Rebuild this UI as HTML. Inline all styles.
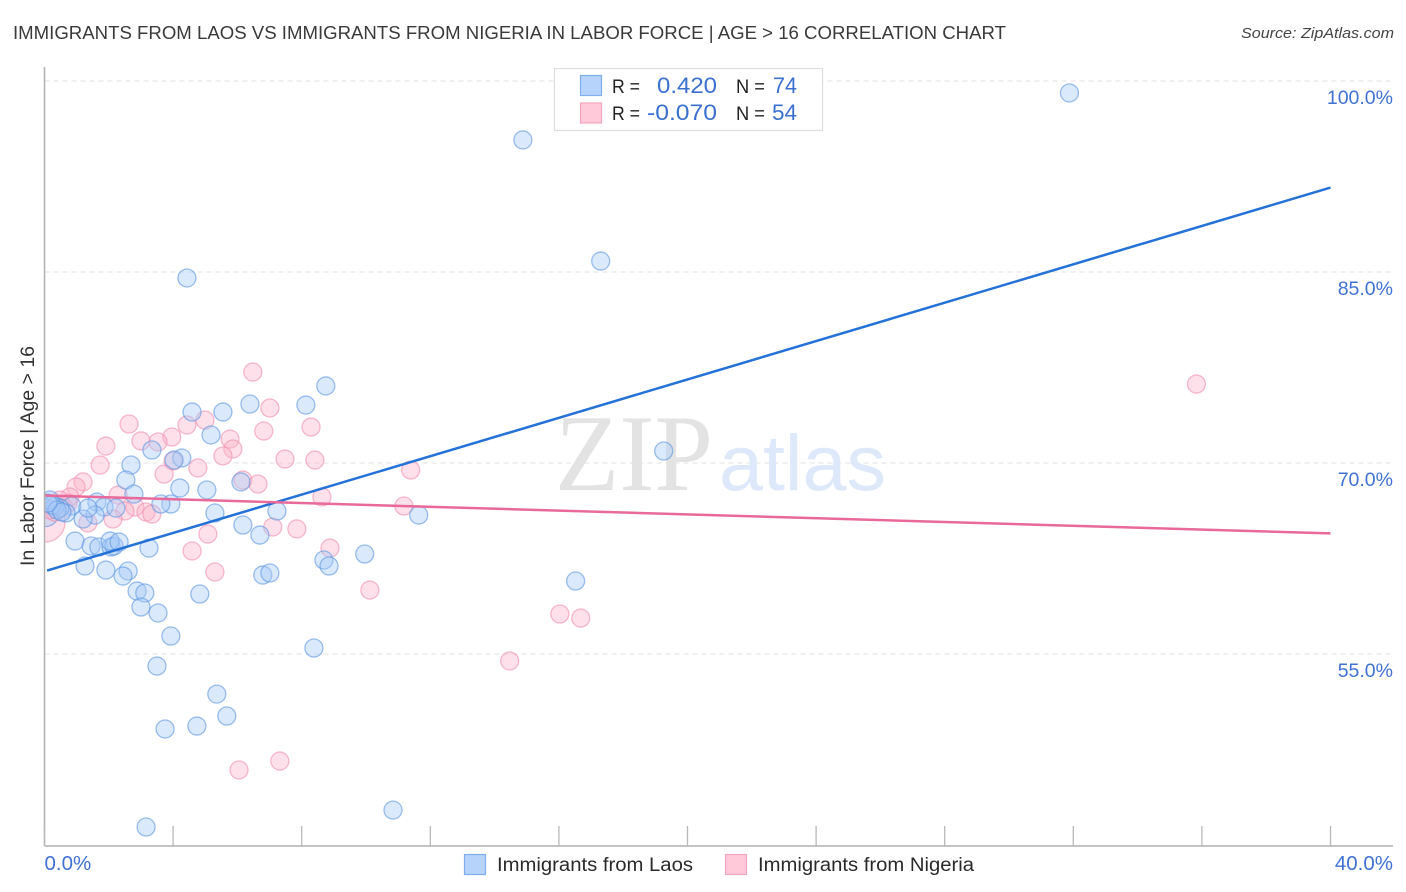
<!DOCTYPE html>
<html lang="en">
<head>
<meta charset="utf-8">
<title>Immigrants from Laos vs Immigrants from Nigeria in Labor Force | Age &gt; 16 Correlation Chart</title>
<style>
html,body{margin:0;padding:0;background:#fff;}
svg{display:block;font-family:"Liberation Sans",sans-serif;}
</style>
</head>
<body>
<svg id="chart" xmlns="http://www.w3.org/2000/svg" width="1406" height="892" viewBox="0 0 1406 892">
  <defs>
    <clipPath id="plot-clip"><rect x="45" y="60" width="1350" height="786"/></clipPath>
  </defs>
  <rect x="0" y="0" width="1406" height="892" fill="#ffffff"/>
  <text x="13" y="39" font-size="18.5" fill="#3a3a3a" textLength="993" lengthAdjust="spacingAndGlyphs">IMMIGRANTS FROM LAOS VS IMMIGRANTS FROM NIGERIA IN LABOR FORCE | AGE &gt; 16 CORRELATION CHART</text>
  <text x="1241" y="38" font-size="15" font-style="italic" fill="#444444" textLength="153" lengthAdjust="spacingAndGlyphs">Source: ZipAtlas.com</text>
  <g id="grid"></g>
  <g>
    <text x="555" y="490" font-family="'Liberation Serif',serif" font-size="109" fill="#e3e3e3" textLength="158" lengthAdjust="spacingAndGlyphs">ZIP</text>
    <text x="719" y="490" font-size="79" fill="#dde9fa" textLength="167" lengthAdjust="spacingAndGlyphs">atlas</text>
  </g>
  <g id="points" clip-path="url(#plot-clip)"></g>
  <g id="lines"></g>
  <g id="axes"></g>
  <text transform="translate(34,456) rotate(-90)" font-size="19" fill="#333333" text-anchor="middle" textLength="220" lengthAdjust="spacingAndGlyphs">In Labor Force | Age &gt; 16</text>
  <g>
    <rect x="554.5" y="68.5" width="268" height="62" fill="#ffffff" stroke="#dddddd" stroke-width="1.2"/>
    <rect x="580.5" y="75.5" width="21" height="20" fill="#b6d4fb" stroke="#7fade9" stroke-width="1.2"/>
    <rect x="580.5" y="103" width="21" height="20" fill="#ffc9da" stroke="#f2a6be" stroke-width="1.2"/>
    <text x="612" y="93" font-size="19" fill="#222222" textLength="28" lengthAdjust="spacingAndGlyphs">R =</text>
    <text x="657" y="93" font-size="22" fill="#3a70cf" textLength="60" lengthAdjust="spacingAndGlyphs">0.420</text>
    <text x="736" y="93" font-size="19" fill="#222222" textLength="29" lengthAdjust="spacingAndGlyphs">N =</text>
    <text x="773" y="93" font-size="22" fill="#3a70cf" textLength="24" lengthAdjust="spacingAndGlyphs">74</text>
    <text x="612" y="120" font-size="19" fill="#222222" textLength="28" lengthAdjust="spacingAndGlyphs">R =</text>
    <text x="647" y="120" font-size="22" fill="#3a70cf" textLength="70" lengthAdjust="spacingAndGlyphs">-0.070</text>
    <text x="736" y="120" font-size="19" fill="#222222" textLength="29" lengthAdjust="spacingAndGlyphs">N =</text>
    <text x="772" y="120" font-size="22" fill="#3a70cf" textLength="25" lengthAdjust="spacingAndGlyphs">54</text>
  </g>
  <g>
    <rect x="464.5" y="854.5" width="21" height="20" fill="#b6d4fb" stroke="#7fade9" stroke-width="1.2"/>
    <text x="497" y="871" font-size="19" fill="#2a2a2a" textLength="196" lengthAdjust="spacingAndGlyphs">Immigrants from Laos</text>
    <rect x="725.5" y="854.5" width="21" height="20" fill="#ffc9da" stroke="#f2a6be" stroke-width="1.2"/>
    <text x="758" y="871" font-size="19" fill="#2a2a2a" textLength="216" lengthAdjust="spacingAndGlyphs">Immigrants from Nigeria</text>
  </g>
</svg>
<script>
const xTickValues = [0,4,8,12,16,20,24,28,32,36,40];
const xTickLabels = ["0.0%","40.0%"];
const xTickLabelValues = [0,40];
const yTickValues = [100,85,70,55];
const yTickLabels = ["100.0%","85.0%","70.0%","55.0%"];

const laosX = [31.88,14.88,17.30,4.43,8.75,8.13,6.39,4.59,5.55,5.18,3.34,19.26,4.27,4.03,2.69,2.53,6.11,4.21,5.05,2.78,3.93,3.62,5.30,7.23,11.64,6.17,6.70,1.63,1.85,2.22,1.57,1.20,0.85,0.67,0.48,0.33,0.17,0.23,0.39,0.54,0.11,0.95,1.45,1.69,2.07,2.16,2.04,2.32,3.25,1.26,1.91,2.60,2.44,6.79,7.01,8.69,8.85,9.96,16.52,2.88,3.12,4.83,3.00,3.53,3.93,8.38,3.50,5.36,5.67,3.75,4.74,10.84,3.16,1.35];
const laosY = [99.06,95.37,85.86,84.53,76.05,74.55,74.63,74.00,74.00,72.20,71.02,70.94,70.39,70.23,69.84,68.66,68.51,68.03,67.88,67.56,66.78,66.78,66.07,66.23,65.91,65.13,64.34,66.93,66.54,66.46,65.91,65.60,66.62,66.07,66.46,66.62,67.09,66.70,66.31,66.15,66.86,63.87,63.48,63.40,63.40,63.48,63.87,63.79,63.32,61.91,61.59,61.52,61.12,61.20,61.36,62.38,61.91,62.85,60.73,59.94,59.79,59.71,58.69,58.22,56.41,55.47,54.05,51.85,50.13,49.11,49.34,42.74,41.41,66.46];
const nigeriaX = [35.83,6.48,7.01,4.99,4.43,8.29,6.82,5.77,3.96,3.53,3.00,2.63,1.91,5.86,5.55,4.00,4.77,7.48,8.41,1.73,3.72,11.39,6.17,6.64,1.20,0.98,2.29,2.81,2.50,3.16,3.34,2.13,1.35,8.63,11.18,7.10,7.85,5.08,4.59,8.88,5.30,10.12,16.03,16.68,14.47,7.32,6.05,0.79,0.48,0.61,0.33,0.73,0.17];
const nigeriaY = [76.20,77.14,74.32,73.37,72.98,72.82,72.51,71.88,72.04,71.65,71.73,73.06,71.33,71.10,70.55,70.15,69.61,70.31,70.23,69.84,69.13,69.45,68.66,68.35,68.51,68.11,67.48,66.54,66.23,66.15,65.99,65.60,65.29,67.33,66.62,64.97,64.82,64.42,63.09,63.32,61.44,60.02,58.14,57.82,54.45,46.59,45.89,67.33,67.09,66.46,66.15,66.86,66.31];
const laosHeavyX = [0.02];
const laosHeavyY = [66.1];
const laosHeavyWeight = [2.4];
const nigeriaHeavyX = [0.02];
const nigeriaHeavyY = [65.36];
const nigeriaHeavyWeight = [4.9];

const laosTrendX = [0.08,40];
const laosTrendY = [61.55,91.63];
const nigeriaTrendX = [0,40];
const nigeriaTrendY = [67.45,64.47];

const NS = 'http://www.w3.org/2000/svg';
const PLOT = {left:44.5, right:1330.5, top:81, bottom:846, gridRight:1393};
const xScale = v => PLOT.left + v * (PLOT.right - PLOT.left) / 40;
const yScale = v => PLOT.top + (100 - v) * 12.733;

function make(tag, attrs, parent, text){
  const el = document.createElementNS(NS, tag);
  for (const k in attrs) el.setAttribute(k, attrs[k]);
  if (text !== undefined) el.textContent = text;
  parent.appendChild(el);
  return el;
}

const gridG = document.getElementById('grid');
const axesG = document.getElementById('axes');
const pointsG = document.getElementById('points');
const linesG = document.getElementById('lines');

yTickValues.forEach((v, i) => {
  const line = make('line', {x1:PLOT.left, x2:PLOT.gridRight, y1:yScale(v), y2:yScale(v), stroke:'#e2e2e2', 'stroke-width':1, 'stroke-dasharray':'5 4'}, gridG);
  
  
  const label = make('text', {x:1393, y:yScale(v) + 23, 'font-size':19.5, fill:'#3f72d2', 'text-anchor':'end'}, axesG, yTickLabels[i]);
  
  
});

function drawBubble(x, y, r, fill, stroke, name){
  const c = make('circle', {cx:xScale(x), cy:yScale(y), r:r, fill:fill, 'fill-opacity':0.42, stroke:stroke, 'stroke-opacity':0.62, 'stroke-width':1.3}, pointsG);
  
  
}
const BLUE_FILL = '#a8cbf7', BLUE_STROKE = '#5f97e2', PINK_FILL = '#fbb4cb', PINK_STROKE = '#f08fb0';
nigeriaHeavyX.forEach((x, i) => drawBubble(x, nigeriaHeavyY[i], 9 * Math.sqrt(nigeriaHeavyWeight[i]), PINK_FILL, PINK_STROKE, 'point-nigeria'));
laosHeavyX.forEach((x, i) => drawBubble(x, laosHeavyY[i], 9 * Math.sqrt(laosHeavyWeight[i]), BLUE_FILL, BLUE_STROKE, 'point-laos'));
nigeriaX.forEach((x, i) => drawBubble(x, nigeriaY[i], 9, PINK_FILL, PINK_STROKE, 'point-nigeria'));
laosX.forEach((x, i) => drawBubble(x, laosY[i], 9, BLUE_FILL, BLUE_STROKE, 'point-laos'));

const laosLine = make('line', {x1:xScale(laosTrendX[0]), y1:yScale(laosTrendY[0]), x2:xScale(laosTrendX[1]), y2:yScale(laosTrendY[1]), stroke:'#2472d8', 'stroke-width':2.5}, linesG);


const nigeriaLine = make('line', {x1:xScale(nigeriaTrendX[0]), y1:yScale(nigeriaTrendY[0]), x2:xScale(nigeriaTrendX[1]), y2:yScale(nigeriaTrendY[1]), stroke:'#e8699a', 'stroke-width':2.5}, linesG);



const yAxis = make('line', {x1:PLOT.left, x2:PLOT.left, y1:67, y2:PLOT.bottom, stroke:'#b0b0b0', 'stroke-width':1.5}, axesG);


const xAxis = make('line', {x1:PLOT.left, x2:PLOT.gridRight, y1:PLOT.bottom, y2:PLOT.bottom, stroke:'#b0b0b0', 'stroke-width':1.5}, axesG);



xTickValues.forEach(v => {
  const t = make('line', {x1:xScale(v), x2:xScale(v), y1:826, y2:PLOT.bottom, stroke:'#b8b8b8', 'stroke-width':1.3}, axesG);
  
  
});

xTickLabelValues.forEach((v, i) => {
  const first = i === 0;
  const label = make('text', {x:first ? xScale(v) : 1393, y:870, 'font-size':20.5, fill:'#3f72d2', 'text-anchor':first ? 'start' : 'end'}, axesG, xTickLabels[i]);
  
  
});
</script>
</body>
</html>
